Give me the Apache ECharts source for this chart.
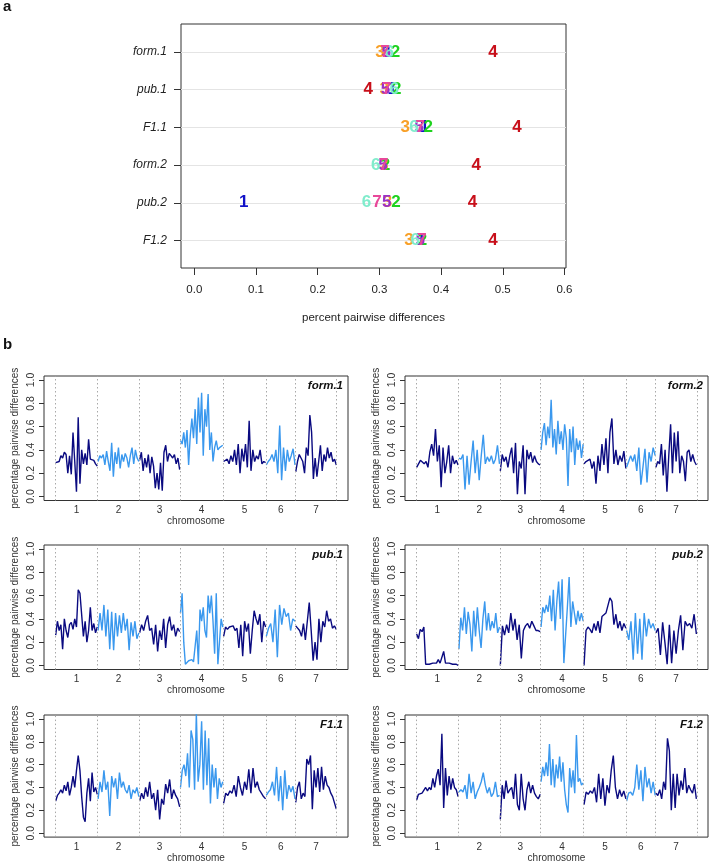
<!DOCTYPE html>
<html><head><meta charset="utf-8">
<script src="https://cdn.jsdelivr.net/npm/echarts@6/dist/echarts.min.js"></script>
<style>html,body{margin:0;padding:0;background:#fff}#c{width:711px;height:864px}</style>
</head><body><div id="c"></div><script>
// ---------- Panel a data ----------
const samples = ['form.1', 'pub.1', 'F1.1', 'form.2', 'pub.2', 'F1.2'];
const chromNames = ['1', '2', '3', '4', '5', '6', '7'];
const xTicksA = [0, 0.1, 0.2, 0.3, 0.4, 0.5, 0.6];
// mean percent pairwise differences, one array per chromosome, values in sample order
const meanChr1 = [0.314, 0.321, 0.373, 0.309, 0.080, 0.368];
const meanChr2 = [0.326, 0.328, 0.379, 0.310, 0.327, 0.370];
const meanChr3 = [0.301, 0.308, 0.342, 0.307, 0.313, 0.348];
const meanChr4 = [0.484, 0.282, 0.523, 0.457, 0.451, 0.484];
const meanChr5 = [0.311, 0.310, 0.364, 0.306, 0.312, 0.366];
const meanChr6 = [0.316, 0.324, 0.356, 0.294, 0.279, 0.358];
const meanChr7 = [0.309, 0.312, 0.366, 0.307, 0.296, 0.369];
const meansByChr = [meanChr1, meanChr2, meanChr3, meanChr4, meanChr5, meanChr6, meanChr7];
const chrColorsA = ['#1212C8', '#1ED21E', '#F8A028', '#C80F1A', '#9A30C8', '#80ECCC', '#E8489A'];

// ---------- Panel b data ----------
const yTicksB = [0, 0.2, 0.4, 0.6, 0.8, 1.0];
const chrLen = [42.6, 41.7, 41.0, 43.3, 43.0, 29.4, 41.6];
const lineColors = ['#0A0A80', '#3A98EE'];

const winForm1 = [
  [0.29,0.28,0.30,0.35,0.33,0.38,0.36,0.20,0.35,0.19,0.55,0.30,0.04,0.68,0.11,0.40,0.28,0.37,0.27,0.49,0.32,0.33,0.31,0.28,0.26],
  [0.30,0.35,0.33,0.36,0.27,0.39,0.30,0.22,0.46,0.17,0.38,0.28,0.42,0.24,0.36,0.30,0.37,0.33,0.25,0.35,0.42,0.28,0.40,0.33,0.30],
  [0.31,0.38,0.22,0.33,0.25,0.36,0.20,0.34,0.26,0.07,0.20,0.06,0.29,0.05,0.38,0.44,0.30,0.37,0.35,0.33,0.36,0.28,0.33,0.23],
  [0.48,0.45,0.55,0.42,0.57,0.27,0.52,0.67,0.50,0.75,0.45,0.85,0.55,0.89,0.35,0.75,0.60,0.88,0.40,0.55,0.30,0.42,0.48,0.40,0.42,0.41,0.44],
  [0.30,0.31,0.32,0.28,0.35,0.30,0.40,0.27,0.45,0.20,0.41,0.30,0.45,0.25,0.65,0.22,0.40,0.30,0.35,0.32,0.40,0.28,0.30,0.29],
  [0.27,0.30,0.32,0.36,0.30,0.40,0.20,0.61,0.14,0.42,0.22,0.40,0.30,0.35,0.41,0.27],
  [0.21,0.30,0.36,0.33,0.30,0.20,0.42,0.35,0.70,0.55,0.15,0.33,0.17,0.30,0.44,0.22,0.36,0.30,0.42,0.33,0.38,0.30,0.32,0.27]
];
const winForm2 = [
  [0.25,0.28,0.31,0.30,0.28,0.30,0.25,0.38,0.45,0.35,0.58,0.30,0.44,0.08,0.42,0.20,0.30,0.44,0.20,0.35,0.28,0.31,0.27],
  [0.33,0.32,0.36,0.06,0.35,0.10,0.30,0.48,0.20,0.40,0.14,0.35,0.53,0.28,0.34,0.30,0.35,0.28,0.32,0.44,0.28],
  [0.22,0.36,0.30,0.34,0.25,0.35,0.42,0.20,0.46,0.02,0.30,0.24,0.44,0.02,0.40,0.32,0.38,0.29,0.35,0.30,0.28,0.27],
  [0.40,0.55,0.63,0.44,0.60,0.50,0.83,0.42,0.58,0.36,0.65,0.45,0.56,0.40,0.62,0.50,0.09,0.58,0.38,0.60,0.27,0.50,0.40,0.48,0.33,0.45],
  [0.28,0.30,0.29,0.32,0.24,0.30,0.11,0.35,0.22,0.45,0.27,0.50,0.20,0.55,0.67,0.28,0.40,0.27,0.35,0.30,0.39,0.24],
  [0.25,0.30,0.35,0.30,0.36,0.22,0.42,0.10,0.25,0.41,0.12,0.38,0.30,0.42,0.35],
  [0.25,0.30,0.28,0.45,0.18,0.40,0.04,0.35,0.62,0.20,0.55,0.30,0.56,0.20,0.35,0.30,0.13,0.38,0.40,0.30,0.36,0.30,0.27]
];
const winPub1 = [
  [0.26,0.38,0.30,0.35,0.14,0.40,0.30,0.24,0.35,0.37,0.31,0.40,0.33,0.65,0.62,0.63,0.25,0.38,0.20,0.30,0.50,0.30,0.36,0.28,0.33],
  [0.30,0.45,0.30,0.52,0.25,0.48,0.14,0.46,0.13,0.45,0.25,0.43,0.28,0.45,0.30,0.40,0.13,0.37,0.25,0.38,0.23,0.28],
  [0.28,0.35,0.30,0.38,0.43,0.30,0.32,0.18,0.35,0.12,0.30,0.22,0.40,0.15,0.35,0.42,0.30,0.35,0.25,0.32,0.29],
  [0.45,0.62,0.20,0.01,0.02,0.04,0.03,0.05,0.03,0.02,0.30,0.01,0.48,0.38,0.50,0.30,0.24,0.60,0.45,0.60,0.38,0.10,0.62,0.01,0.02,0.40,0.33],
  [0.25,0.33,0.31,0.33,0.32,0.34,0.30,0.32,0.15,0.35,0.08,0.38,0.29,0.36,0.10,0.30,0.47,0.40,0.35,0.44,0.20,0.38,0.33],
  [0.25,0.32,0.36,0.20,0.48,0.07,0.52,0.35,0.49,0.42,0.45,0.30,0.40,0.38],
  [0.34,0.33,0.30,0.25,0.36,0.22,0.38,0.54,0.30,0.04,0.20,0.05,0.40,0.20,0.38,0.33,0.47,0.38,0.40,0.32,0.34,0.31]
];
const winPub2 = [
  [0.27,0.23,0.31,0.29,0.33,0.01,0.01,0.01,0.01,0.02,0.01,0.02,0.05,0.02,0.03,0.12,0.02,0.03,0.02,0.03,0.01,0.02,0.01,0.00],
  [0.14,0.41,0.30,0.50,0.27,0.46,0.35,0.12,0.47,0.25,0.50,0.30,0.15,0.40,0.55,0.30,0.45,0.30,0.38,0.32,0.45,0.28,0.33],
  [0.00,0.34,0.26,0.35,0.28,0.45,0.30,0.40,0.22,0.35,0.06,0.30,0.34,0.36,0.32,0.38,0.34,0.30,0.30,0.29],
  [0.33,0.50,0.45,0.52,0.46,0.60,0.38,0.65,0.30,0.55,0.72,0.40,0.74,0.02,0.02,0.50,0.76,0.33,0.55,0.56,0.35,0.47,0.38,0.45,0.38],
  [0.00,0.30,0.33,0.31,0.28,0.36,0.30,0.38,0.28,0.42,0.43,0.45,0.44,0.58,0.55,0.35,0.44,0.32,0.38,0.30,0.36,0.32],
  [0.30,0.22,0.38,0.05,0.45,0.10,0.40,0.05,0.45,0.25,0.40,0.32,0.36,0.30],
  [0.28,0.32,0.09,0.37,0.20,0.01,0.35,0.02,0.30,0.10,0.30,0.43,0.13,0.38,0.34,0.36,0.32,0.44,0.27]
];
const winF11 = [
  [0.28,0.33,0.35,0.38,0.35,0.42,0.37,0.45,0.33,0.40,0.50,0.40,0.55,0.68,0.55,0.32,0.14,0.10,0.35,0.48,0.28,0.53,0.36,0.40,0.34],
  [0.30,0.45,0.36,0.55,0.38,0.45,0.15,0.50,0.40,0.48,0.30,0.53,0.40,0.45,0.38,0.35,0.42,0.30,0.38,0.35,0.40,0.32],
  [0.28,0.35,0.30,0.40,0.32,0.45,0.30,0.35,0.20,0.38,0.12,0.30,0.25,0.43,0.35,0.47,0.30,0.38,0.33,0.30,0.23],
  [0.40,0.55,0.60,0.50,0.70,0.40,0.90,0.82,0.38,1.05,0.45,0.60,0.98,0.38,0.90,0.42,0.83,0.26,0.60,0.40,0.57,0.30,0.48,0.40,0.45],
  [0.26,0.35,0.33,0.37,0.35,0.42,0.32,0.50,0.40,0.33,0.45,0.38,0.56,0.35,0.57,0.40,0.45,0.38,0.35,0.32,0.30],
  [0.33,0.36,0.38,0.45,0.33,0.58,0.28,0.50,0.20,0.55,0.30,0.42,0.36,0.41,0.30],
  [0.27,0.40,0.45,0.30,0.35,0.32,0.65,0.60,0.68,0.21,0.55,0.40,0.57,0.36,0.58,0.38,0.50,0.42,0.40,0.35,0.32,0.33,0.21]
];
const winF12 = [
  [0.29,0.34,0.33,0.35,0.34,0.40,0.37,0.40,0.38,0.48,0.40,0.50,0.56,0.42,0.87,0.22,0.57,0.33,0.50,0.38,0.48,0.40,0.38,0.32],
  [0.36,0.38,0.36,0.42,0.30,0.52,0.35,0.45,0.30,0.36,0.40,0.45,0.53,0.42,0.35,0.40,0.32,0.35,0.45,0.32,0.33],
  [0.12,0.42,0.30,0.46,0.35,0.38,0.40,0.30,0.52,0.25,0.20,0.52,0.30,0.20,0.38,0.45,0.35,0.42,0.35,0.32,0.30,0.34],
  [0.45,0.58,0.50,0.62,0.50,0.78,0.42,0.65,0.40,0.60,0.48,0.67,0.45,0.62,0.38,0.25,0.18,0.57,0.40,0.55,0.35,0.86,0.45,0.48,0.42,0.44],
  [0.25,0.36,0.34,0.37,0.35,0.40,0.27,0.52,0.30,0.48,0.24,0.42,0.35,0.55,0.68,0.40,0.30,0.38,0.32,0.37,0.30],
  [0.28,0.35,0.36,0.33,0.40,0.60,0.38,0.55,0.28,0.58,0.40,0.48,0.35,0.45,0.33],
  [0.35,0.33,0.38,0.30,0.45,0.38,0.83,0.72,0.20,0.52,0.22,0.52,0.33,0.46,0.38,0.57,0.35,0.42,0.38,0.35,0.43,0.30]
];

// ---------- build ----------
const FONT = '"Liberation Sans", Arial, Helvetica, sans-serif';
const chrStart = [];
let acc = 0;
chrLen.forEach(l => { chrStart.push(acc); acc += l; });
const genomeLen = acc;
const boundaries = chrStart.concat([genomeLen]);
const chrMid = chrStart.map((s, i) => s + chrLen[i] / 2);
const pad = genomeLen * 0.04;

const panelsB = [
  { name: 'form.1', data: winForm1, left: 44, top: 376, width: 304 },
  { name: 'form.2', data: winForm2, left: 405, top: 376, width: 303 },
  { name: 'pub.1', data: winPub1, left: 44, top: 545, width: 304 },
  { name: 'pub.2', data: winPub2, left: 405, top: 545, width: 303 },
  { name: 'F1.1', data: winF11, left: 44, top: 715, width: 304 },
  { name: 'F1.2', data: winF12, left: 405, top: 715, width: 303 }
];
const hB = 124.5;

const grids = [{ left: 181, top: 24, width: 385, height: 244, show: true, borderColor: '#333', borderWidth: 1, containLabel: false }];
const xAxes = [{
  gridIndex: 0, type: 'value', min: -0.0216, max: 0.6025,
  axisLine: { show: false, onZero: false },
  axisTick: { show: true, length: 7, customValues: xTicksA, lineStyle: { color: '#333' } },
  axisLabel: { customValues: xTicksA, formatter: v => v.toFixed(1), fontFamily: FONT, fontSize: 11.5, color: '#222', margin: 16 },
  splitLine: { show: false },
  name: 'percent pairwise differences', nameLocation: 'middle', nameGap: 44,
  nameTextStyle: { fontFamily: FONT, fontSize: 11.5, color: '#222' }
}];
const yAxes = [{
  gridIndex: 0, type: 'value', inverse: true, min: 0.26, max: 6.73,
  axisLine: { show: false, onZero: false },
  axisTick: { show: true, length: 7, customValues: [1, 2, 3, 4, 5, 6], lineStyle: { color: '#333' } },
  axisLabel: { customValues: [1, 2, 3, 4, 5, 6], formatter: v => samples[Math.round(v) - 1], fontFamily: FONT, fontSize: 12, fontStyle: 'italic', color: '#222', margin: 14 },
  splitLine: { show: false }
}];
const series = [];
// row guide lines in panel a
series.push({
  type: 'scatter', xAxisIndex: 0, yAxisIndex: 0, data: [], silent: true, z: 1,
  markLine: {
    silent: true, symbol: 'none', label: { show: false },
    lineStyle: { color: '#E4E4E4', width: 1, type: 'solid' },
    data: samples.map((s, i) => ({ yAxis: i + 1 }))
  }
});
meansByChr.forEach((arr, c) => {
  series.push({
    type: 'scatter', xAxisIndex: 0, yAxisIndex: 0, z: 5 + c,
    symbolSize: 0.01, itemStyle: { color: 'rgba(0,0,0,0)', opacity: 1 },
    data: arr.map((v, r) => [v, r + 1]),
    label: { show: true, position: 'inside', formatter: chromNames[c], color: chrColorsA[c], opacity: 1, fontFamily: FONT, fontSize: 17, fontWeight: 'bold' },
    labelLayout: { hideOverlap: false },
    emphasis: { disabled: true }
  });
});

panelsB.forEach((p, k) => {
  const gi = k + 1;
  grids.push({ left: p.left, top: p.top, width: p.width, height: hB, show: true, borderColor: '#333', borderWidth: 1 });
  xAxes.push({
    gridIndex: gi, type: 'value', min: -pad, max: genomeLen + pad,
    axisLine: { show: false, onZero: false }, axisTick: { show: false }, splitLine: { show: false },
    axisLabel: { customValues: chrMid, formatter: v => { let b = 0; chrMid.forEach((m, i) => { if (Math.abs(m - v) < Math.abs(chrMid[b] - v)) b = i; }); return chromNames[b]; }, fontFamily: FONT, fontSize: 10, color: '#333', margin: 5 },
    name: 'chromosome', nameLocation: 'middle', nameGap: 15,
    nameTextStyle: { fontFamily: FONT, fontSize: 10, color: '#333' }
  });
  yAxes.push({
    gridIndex: gi, type: 'value', min: -0.035, max: 1.035,
    axisLine: { show: false, onZero: false },
    axisTick: { show: true, length: 5, customValues: yTicksB, lineStyle: { color: '#333' } },
    axisLabel: { customValues: yTicksB, rotate: 90, formatter: v => v.toFixed(1), fontFamily: FONT, fontSize: 10.5, color: '#333', margin: 7 },
    splitLine: { show: false },
    name: 'percentage pairwise differences', nameLocation: 'middle', nameGap: 24,
    nameTextStyle: { fontFamily: FONT, fontSize: 10, color: '#333' }
  });
  series.push({
    type: 'scatter', xAxisIndex: gi, yAxisIndex: gi, data: [], silent: true, z: 1,
    markLine: {
      silent: true, symbol: 'none', label: { show: false },
      lineStyle: { color: '#A8A8A8', width: 1, type: [1.5, 2.5] },
      data: boundaries.map(b => ({ xAxis: b }))
    }
  });
  p.data.forEach((vals, c) => {
    const n = vals.length;
    const s0 = chrStart[c] + chrLen[c] * 0.01;
    const span = chrLen[c] * 0.98;
    series.push({
      type: 'line', xAxisIndex: gi, yAxisIndex: gi, z: 3,
      showSymbol: false, symbol: 'none', silent: true,
      lineStyle: { color: lineColors[c % 2], width: 1.4 },
      data: vals.map((v, j) => [s0 + span * j / (n - 1), v])
    });
  });
});

const graphics = [
  { type: 'text', x: 3, y: -1, style: { text: 'a', font: 'bold 15px ' + FONT, fill: '#111' } },
  { type: 'text', x: 3, y: 337, style: { text: 'b', font: 'bold 15px ' + FONT, fill: '#111' } }
];
panelsB.forEach(p => {
  graphics.push({ type: 'text', x: p.left + p.width - 5, y: p.top + 10, style: { text: p.name, font: 'italic bold 11.5px ' + FONT, fill: '#111', align: 'right', verticalAlign: 'middle' }, z: 10 });
});

const chart = echarts.init(document.getElementById('c'), null, { renderer: 'canvas' });
chart.setOption({
  animation: false,
  backgroundColor: '#fff',
  grid: grids, xAxis: xAxes, yAxis: yAxes, series: series, graphic: graphics
});
</script></body></html>
